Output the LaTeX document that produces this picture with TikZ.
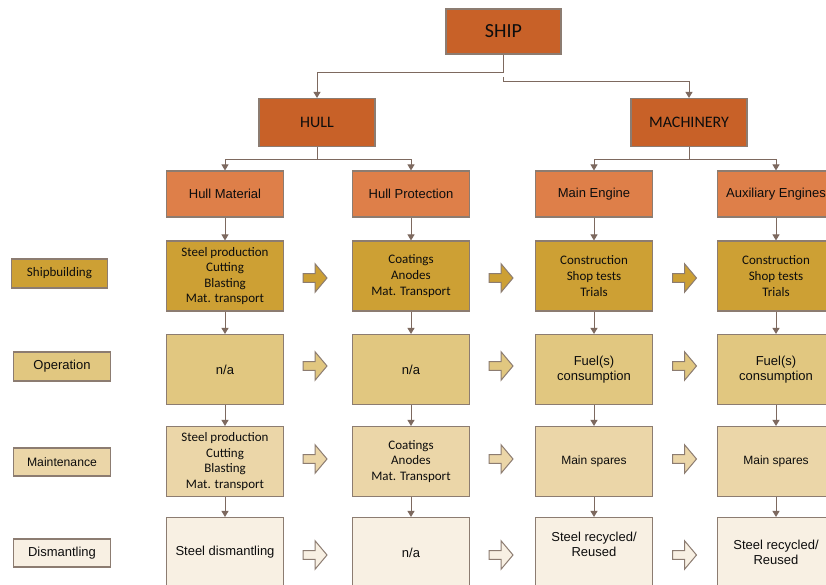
\documentclass[tikz,border=0pt]{standalone}
\usepackage{fontspec}
\setmainfont{Carlito}
\newfontfamily\arialfont{Liberation Sans}
\usetikzlibrary{arrows.meta}

\definecolor{shiporange}{RGB}{200,97,40}
\definecolor{partorange}{RGB}{222,127,73}
\definecolor{buildgold}{RGB}{205,160,52}
\definecolor{operbeige}{RGB}{225,199,128}
\definecolor{maintbeige}{RGB}{235,214,168}
\definecolor{dismcream}{RGB}{248,240,227}
\definecolor{edgegray}{RGB}{140,124,113}
\definecolor{linebrown}{RGB}{125,105,95}

\tikzset{
  box/.style={draw=edgegray, line width=1.1pt, inner sep=0pt, align=center, text=black!95},
  topbox/.style={box, fill=shiporange, minimum width=116pt, minimum height=48pt},
  partbox/.style={box, fill=partorange, minimum width=117pt, minimum height=46pt,
    font=\arialfont\fontsize{13}{15}\selectfont},
  cellbox/.style={box, minimum width=117pt, minimum height=70pt,
    font=\fontsize{13}{15.6}\selectfont},
  rowlabel/.style={box, minimum width=97pt, minimum height=29pt,
    font=\fontsize{13}{15.6}\selectfont},
  arial/.style={font=\arialfont\fontsize{13}{15.4}\selectfont},
  conn/.style={draw=linebrown, line width=1pt, -{Triangle[width=7pt,length=6pt]}},
  blockarrow/.style={draw=edgegray, line width=1pt}
}

\begin{document}
\begin{tikzpicture}[x=1pt, y=-1pt]
    % page size of the reference
    \clip (0,0) rectangle (826,585);
    \fill[white] (0,0) rectangle (826,585);

    % top of the tree
    \node[topbox, minimum width=115pt, minimum height=45pt, font=\fontsize{20}{24}\selectfont]
      (ship) at (503.5,31.5) {SHIP};
    \node[topbox, font=\fontsize{16}{19}\selectfont] (hull) at (317,122.5) {HULL};
    \node[topbox, font=\fontsize{16}{19}\selectfont] (mach) at (689,122.5) {MACHINERY};

    \draw[conn] (ship.south) -- ++(0,18) -| (hull.north);
    \coordinate (split) at (503.5,77);
    \draw[conn] (split) -- ++(0,5) -| (mach.north);

    % components
    \node[partbox] (hm) at (225,194) {Hull Material};
    \node[partbox] (hp) at (411,194) {Hull Protection};
    \node[partbox] (me) at (594,194) {Main Engine};
    \node[partbox] (ae) at (776,194) {Auxiliary Engines};

    \draw[draw=linebrown, line width=1pt] (hull.south) -- ++(0,12.5) coordinate (hj);
    \draw[conn] (hj) -| (hm.north);
    \draw[conn] (hj) -| (hp.north);
    \draw[draw=linebrown, line width=1pt] (mach.south) -- ++(0,12.5) coordinate (mj);
    \draw[conn] (mj) -| (me.north);
    \draw[conn] (mj) -| (ae.north);

    % life cycle phases
    \node[rowlabel, fill=buildgold, minimum width=96pt] (build) at (59.5,273.5) {Shipbuilding};
    \node[rowlabel, fill=operbeige, arial] (oper) at (62,366.5) {Operation};
    \node[rowlabel, fill=maintbeige, minimum height=28pt, font=\arialfont\fontsize{12.2}{14}\selectfont]
      (maint) at (62,462) {Maintenance};
    \node[rowlabel, fill=dismcream, minimum height=28pt, arial] (dism) at (62,553) {Dismantling};

    % shipbuilding row
    \node[cellbox, fill=buildgold] (hm-build) at (225,276) {Steel production\\Cutting\\Blasting\\Mat. transport};
    \node[cellbox, fill=buildgold] (hp-build) at (411,276) {Coatings\\Anodes\\Mat. Transport};
    \node[cellbox, fill=buildgold] (me-build) at (594,276) {Construction\\Shop tests\\Trials};
    \node[cellbox, fill=buildgold] (ae-build) at (776,276) {Construction\\Shop tests\\Trials};

    % operation row
    \node[cellbox, fill=operbeige, arial] (hm-oper) at (225,369.5) {n/a};
    \node[cellbox, fill=operbeige, arial] (hp-oper) at (411,369.5) {n/a};
    \node[cellbox, fill=operbeige, arial] (me-oper) at (594,369.5) {Fuel(s)\\consumption};
    \node[cellbox, fill=operbeige, arial] (ae-oper) at (776,369.5) {Fuel(s)\\consumption};

    % maintenance row
    \node[cellbox, fill=maintbeige] (hm-maint) at (225,461.5) {Steel production\\Cutting\\Blasting\\Mat. transport};
    \node[cellbox, fill=maintbeige] (hp-maint) at (411,461.5) {Coatings\\Anodes\\Mat. Transport};
    \node[cellbox, fill=maintbeige, font=\arialfont\fontsize{12}{14}\selectfont] (me-maint) at (594,461.5) {Main spares};
    \node[cellbox, fill=maintbeige, font=\arialfont\fontsize{12}{14}\selectfont] (ae-maint) at (776,461.5) {Main spares};

    % dismantling row
    \node[cellbox, fill=dismcream, arial] (hm-dism) at (225,552.5) {Steel dismantling};
    \node[cellbox, fill=dismcream, arial] (hp-dism) at (411,552.5) {n/a};
    \node[cellbox, fill=dismcream] (me-dism) at (594,552.5) {};
    \node[arial, align=center, text=black!95] (me-dism-txt) at (594,544.5) {Steel recycled/\\Reused};
    \node[cellbox, fill=dismcream, arial] (ae-dism) at (776,552.5) {Steel recycled/\\Reused};

    % vertical flow in each column
    \foreach \c in {hm, hp, me, ae} {
        \draw[conn] (\c.south) -- (\c-build.north);
        \draw[conn] (\c-build.south) -- (\c-oper.north);
        \draw[conn] (\c-oper.south) -- (\c-maint.north);
        \draw[conn] (\c-maint.south) -- (\c-dism.north);
      }

    % block arrows between columns
    \foreach \y/\col in {278/buildgold, 366/operbeige, 459/maintbeige, 555/dismcream} {
        \foreach \x in {315, 501, 684.5} {
            \filldraw[blockarrow, fill=\col, shift={(\x,\y)}]
              (-12,-4.4) -- (0,-4.4) -- (0,-14.3) -- (12,0) -- (0,14.3) -- (0,4.4) -- (-12,4.4) -- cycle;
          }
      }
\end{tikzpicture}
\end{document}
